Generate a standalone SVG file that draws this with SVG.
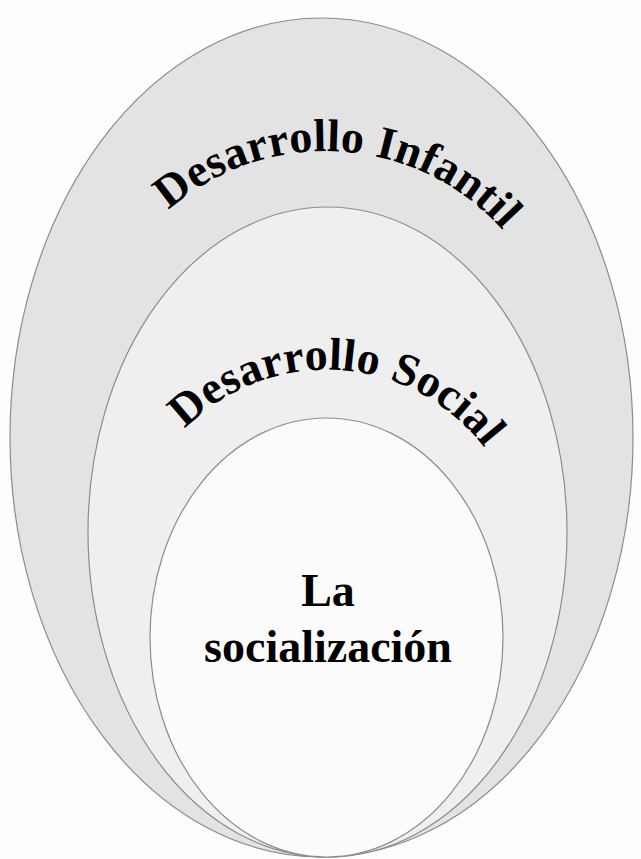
<svg xmlns="http://www.w3.org/2000/svg" width="641" height="859" viewBox="0 0 641 859">
<style>
.ring{stroke:#8c8c8c;stroke-width:1.2}
.t{font-family:"Liberation Serif","Times New Roman",serif;font-weight:bold;fill:#000}
.arc{font-size:46px;letter-spacing:0.3px}
.c{font-size:46px;text-anchor:middle}
</style>
<defs>
<path id="p1" d="M87.5,389 A238,238 0 0 1 563.5,389"/>
<path id="p2" d="M127.4,568.6 A199,199 0 0 1 525.4,568.6"/>
</defs>
<rect width="641" height="859" fill="#fdfdfd"/>
<g id="outer">
<ellipse class="ring" cx="321.5" cy="437.5" rx="311.5" ry="419.5" fill="#e3e3e3"/>
<text class="t arc"><textPath href="#p1" startOffset="388" text-anchor="middle">Desarrollo Infantil</textPath></text>
</g>
<g id="middle">
<ellipse class="ring" cx="327.5" cy="532" rx="239.5" ry="325" fill="#efefef"/>
<text class="t arc"><textPath href="#p2" startOffset="325" text-anchor="middle">Desarrollo Social</textPath></text>
</g>
<g id="inner">
<ellipse class="ring" cx="326.5" cy="637.5" rx="176.5" ry="219.5" fill="#fbfbfb"/>
<text class="t c" x="328" y="606">La</text>
<text class="t c" x="328" y="662">socialización</text>
</g>
<g id="connectors"/>
</svg>
